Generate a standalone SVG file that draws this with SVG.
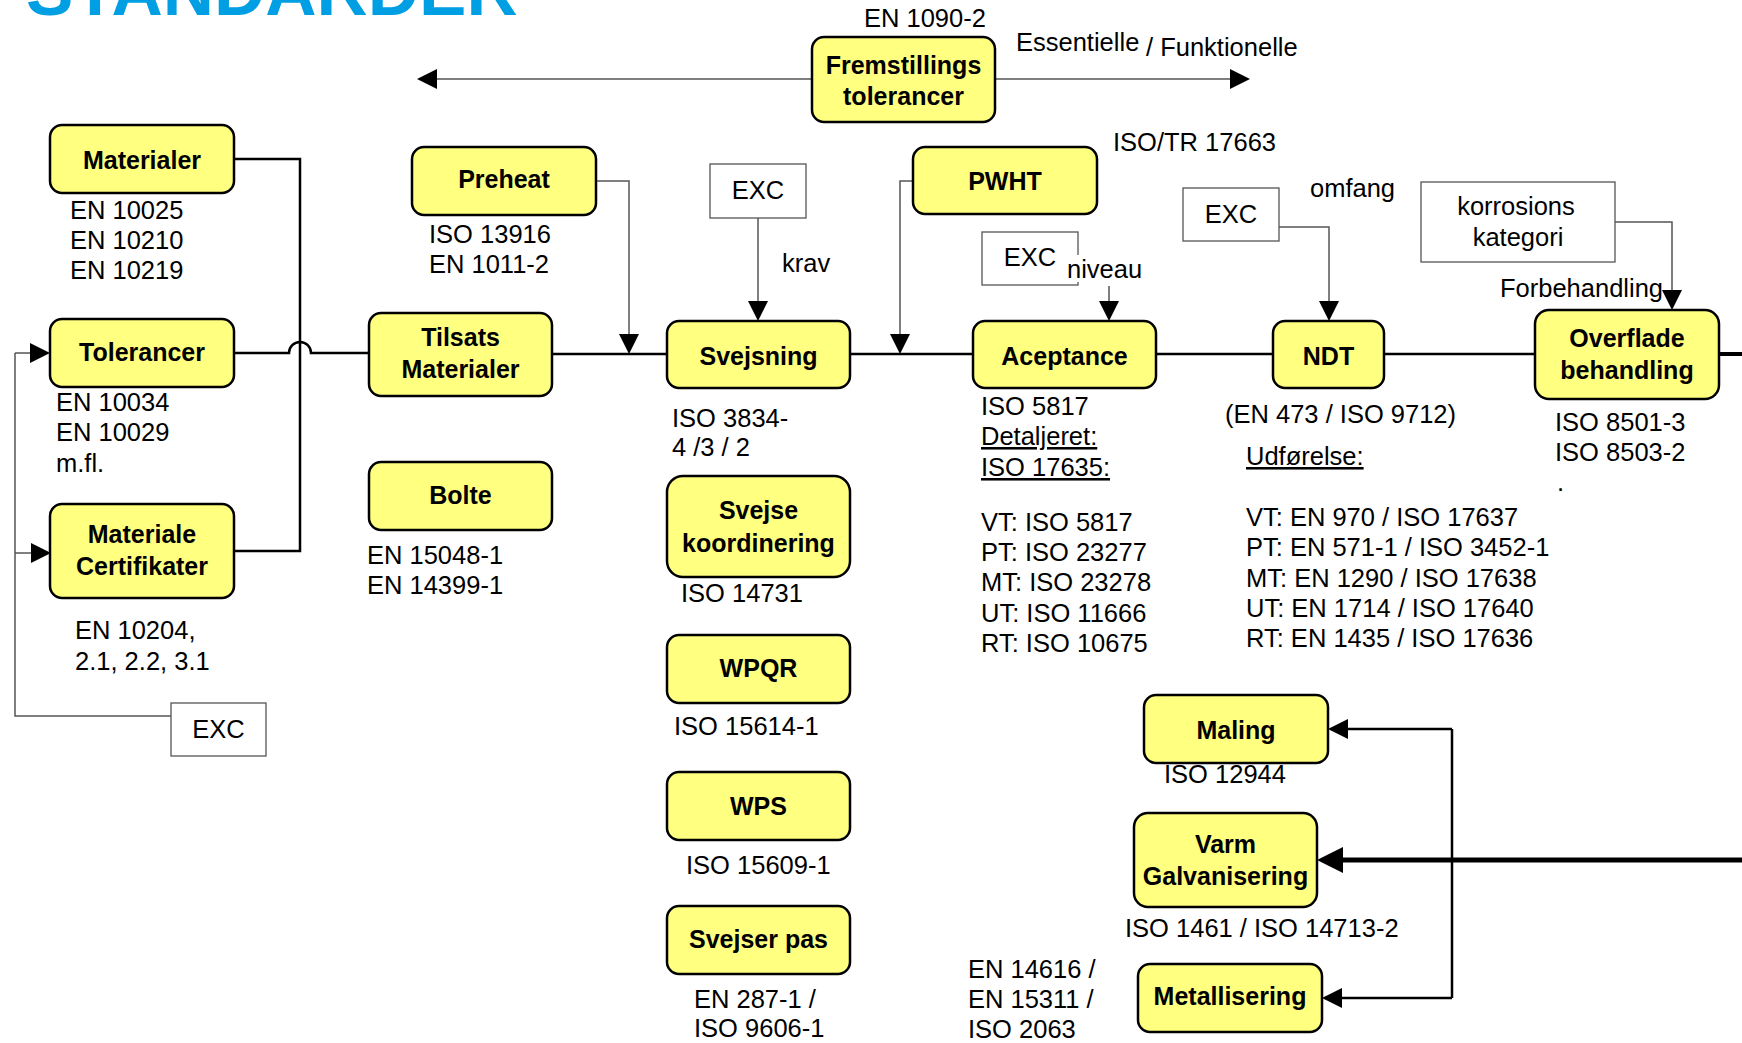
<svg xmlns="http://www.w3.org/2000/svg" width="1742" height="1043" viewBox="0 0 1742 1043">
<defs>
<style>
.node rect{fill:#FFFF80;stroke:#000;stroke-width:2.5}
.node text{font-family:"Liberation Sans",Arial,sans-serif;font-weight:bold;font-size:25px;text-anchor:middle;fill:#000}
.exc rect{fill:#fff;stroke:#555;stroke-width:1.3}
.exc text{font-family:"Liberation Sans",Arial,sans-serif;font-size:25.5px;text-anchor:middle;fill:#000}
.t{font-family:"Liberation Sans",Arial,sans-serif;font-size:25.5px;fill:#000}
.u{text-decoration:underline}
.main{fill:none;stroke:#000;stroke-width:2.5}
.thin{fill:none;stroke:#555;stroke-width:1.5}
.arr{marker-end:url(#ah)}
</style>
<marker id="ah" markerUnits="userSpaceOnUse" viewBox="0 0 20 20" markerWidth="20" markerHeight="20" refX="17" refY="10" orient="auto"><path d="M0,0 L20,10 L0,20 Z" fill="#000"/></marker>
<marker id="ahs" markerUnits="userSpaceOnUse" viewBox="0 0 20 20" markerWidth="20" markerHeight="20" refX="17" refY="10" orient="auto-start-reverse"><path d="M0,0 L20,10 L0,20 Z" fill="#000"/></marker>
<marker id="ahb" markerUnits="userSpaceOnUse" viewBox="0 0 26 26" markerWidth="26" markerHeight="26" refX="20" refY="13" orient="auto"><path d="M0,0 L26,13 L0,26 Z" fill="#000"/></marker>
</defs>
<rect width="1742" height="1043" fill="#fff"/>
<text x="26" y="15" font-family="Liberation Sans,Arial,sans-serif" font-weight="bold" font-size="71" fill="#009FE3">STANDARDER</text>

<g id="connectors">
<path class="thin" d="M420,79 H1247" marker-start="url(#ahs)" marker-end="url(#ahs)"/>
<path class="main" d="M234,159 H300 V551 H234"/>
<path class="main" d="M234,353 H289 A11,11 0 0 1 311,353 H369"/>
<path class="main" d="M552,354 H667 M850,354 H973 M1156,354 H1273 M1384,354 H1535"/>
<path fill="none" stroke="#000" stroke-width="4" d="M1719,354 H1742"/>
<path class="thin arr" d="M596,181 H629 V351"/>
<path class="thin arr" d="M913,181 H900 V351"/>
<path class="thin arr" d="M758,218 V318"/>
<path class="thin arr" d="M1109,286 V318"/>
<path class="thin arr" d="M1279,227 H1329 V318"/>
<path class="thin arr" d="M1615,222 H1672 V307"/>
<path class="thin" d="M171,716 H15 V353"/>
<path class="thin arr" d="M15,353 H47"/>
<path class="thin arr" d="M15,553 H48"/>
<path class="main" d="M1452,729 V998"/>
<path class="main arr" d="M1452,729 H1331"/>
<path class="main arr" d="M1452,998 H1325"/>
<path fill="none" stroke="#000" stroke-width="5" marker-end="url(#ahb)" d="M1742,860 H1323"/>
</g>

<g id="fremstillings" class="node"><rect x="812" y="37" width="183" height="85" rx="12"/><text x="903.5" y="74">Fremstillings</text><text x="903.5" y="105">tolerancer</text></g>
<g id="materialer" class="node"><rect x="50" y="125" width="184" height="68" rx="12"/><text x="142" y="169">Materialer</text></g>
<g id="tolerancer" class="node"><rect x="50" y="319" width="184" height="68" rx="12"/><text x="142" y="361">Tolerancer</text></g>
<g id="materialecertifikater" class="node"><rect x="50" y="504" width="184" height="94" rx="12"/><text x="142" y="543">Materiale</text><text x="142" y="575">Certifikater</text></g>
<g id="tilsats" class="node"><rect x="369" y="313" width="183" height="83" rx="12"/><text x="460.5" y="346">Tilsats</text><text x="460.5" y="378">Materialer</text></g>
<g id="bolte" class="node"><rect x="369" y="462" width="183" height="68" rx="12"/><text x="460.5" y="504">Bolte</text></g>
<g id="preheat" class="node"><rect x="412" y="147" width="184" height="68" rx="12"/><text x="504" y="188">Preheat</text></g>
<g id="svejsning" class="node"><rect x="667" y="321" width="183" height="67" rx="12"/><text x="758.5" y="365">Svejsning</text></g>
<g id="svejsekoordinering" class="node"><rect x="667" y="476" width="183" height="101" rx="16"/><text x="758.5" y="519">Svejse</text><text x="758.5" y="552">koordinering</text></g>
<g id="wpqr" class="node"><rect x="667" y="635" width="183" height="68" rx="12"/><text x="758.5" y="677">WPQR</text></g>
<g id="wps" class="node"><rect x="667" y="772" width="183" height="68" rx="12"/><text x="758.5" y="815">WPS</text></g>
<g id="svejserpas" class="node"><rect x="667" y="906" width="183" height="68" rx="12"/><text x="758.5" y="948">Svejser pas</text></g>
<g id="pwht" class="node"><rect x="913" y="147" width="184" height="67" rx="12"/><text x="1005" y="190">PWHT</text></g>
<g id="aceptance" class="node"><rect x="973" y="321" width="183" height="67" rx="12"/><text x="1064.5" y="365">Aceptance</text></g>
<g id="ndt" class="node"><rect x="1273" y="321" width="111" height="67" rx="12"/><text x="1328.5" y="365">NDT</text></g>
<g id="overflade" class="node"><rect x="1535" y="310" width="184" height="89" rx="14"/><text x="1627" y="347">Overflade</text><text x="1627" y="379">behandling</text></g>
<g id="maling" class="node"><rect x="1144" y="695" width="184" height="68" rx="12"/><text x="1236" y="739">Maling</text></g>
<g id="varmgalvanisering" class="node"><rect x="1134" y="813" width="183" height="94" rx="14"/><text x="1225.5" y="853">Varm</text><text x="1225.5" y="885">Galvanisering</text></g>
<g id="metallisering" class="node"><rect x="1138" y="964" width="184" height="68" rx="12"/><text x="1230" y="1005">Metallisering</text></g>

<g id="exc1" class="exc"><rect x="171" y="703" width="95" height="53"/><text x="218.5" y="738">EXC</text></g>
<g id="exc2" class="exc"><rect x="710" y="164" width="96" height="54"/><text x="758" y="199">EXC</text></g>
<g id="exc3" class="exc"><rect x="982" y="232" width="96" height="53"/><text x="1030" y="266">EXC</text></g>
<g id="exc4" class="exc"><rect x="1183" y="188" width="96" height="53"/><text x="1231" y="223">EXC</text></g>
<g id="korrosion" class="exc"><rect x="1421" y="182" width="194" height="80"/><text x="1516" y="215">korrosions</text><text x="1518" y="246">kategori</text></g>

<g id="labels">
<text class="t" x="864" y="27">EN 1090-2</text>
<text class="t" x="1016" y="51">Essentielle</text>
<text class="t" x="1146" y="56">/ Funktionelle</text>
<text class="t" x="1113" y="151">ISO/TR 17663</text>
<text class="t" x="782" y="272">krav</text>
<rect x="1068" y="255" width="82" height="27" fill="#fff"/>
<text class="t" x="1067" y="278">niveau</text>
<text class="t" x="1310" y="197">omfang</text>
<text class="t" x="1500" y="297">Forbehandling</text>
<text class="t" x="70" y="219">EN 10025</text>
<text class="t" x="70" y="249">EN 10210</text>
<text class="t" x="70" y="279">EN 10219</text>
<text class="t" x="56" y="411">EN 10034</text>
<text class="t" x="56" y="441">EN 10029</text>
<text class="t" x="56" y="472">m.fl.</text>
<text class="t" x="75" y="639">EN 10204,</text>
<text class="t" x="75" y="670">2.1, 2.2, 3.1</text>
<text class="t" x="429" y="243">ISO 13916</text>
<text class="t" x="429" y="273">EN 1011-2</text>
<text class="t" x="367" y="564">EN 15048-1</text>
<text class="t" x="367" y="594">EN 14399-1</text>
<text class="t" x="672" y="427">ISO 3834-</text>
<text class="t" x="672" y="456">4 /3 / 2</text>
<text class="t" x="681" y="602">ISO 14731</text>
<text class="t" x="674" y="735">ISO 15614-1</text>
<text class="t" x="686" y="874">ISO 15609-1</text>
<text class="t" x="694" y="1008">EN 287-1 /</text>
<text class="t" x="694" y="1037">ISO 9606-1</text>
<text class="t" x="981" y="415">ISO 5817</text>
<text class="t u" x="981" y="445">Detaljeret:</text>
<text class="t u" x="981" y="476">ISO 17635:</text>
<text class="t" x="981" y="531">VT: ISO 5817</text>
<text class="t" x="981" y="561">PT: ISO 23277</text>
<text class="t" x="981" y="591">MT: ISO 23278</text>
<text class="t" x="981" y="622">UT: ISO 11666</text>
<text class="t" x="981" y="652">RT: ISO 10675</text>
<text class="t" x="1225" y="423">(EN 473 / ISO 9712)</text>
<text class="t u" x="1246" y="465">Udførelse:</text>
<text class="t" x="1246" y="526">VT: EN 970 / ISO 17637</text>
<text class="t" x="1246" y="556">PT: EN 571-1 / ISO 3452-1</text>
<text class="t" x="1246" y="587">MT: EN 1290 / ISO 17638</text>
<text class="t" x="1246" y="617">UT: EN 1714 / ISO 17640</text>
<text class="t" x="1246" y="647">RT: EN 1435 / ISO 17636</text>
<text class="t" x="1555" y="431">ISO 8501-3</text>
<text class="t" x="1555" y="461">ISO 8503-2</text>
<text class="t" x="1557" y="491">.</text>
<text class="t" x="1164" y="783">ISO 12944</text>
<text class="t" x="1125" y="937">ISO 1461 / ISO 14713-2</text>
<text class="t" x="968" y="978">EN 14616 /</text>
<text class="t" x="968" y="1008">EN 15311 /</text>
<text class="t" x="968" y="1038">ISO 2063</text>
</g>
</svg>
